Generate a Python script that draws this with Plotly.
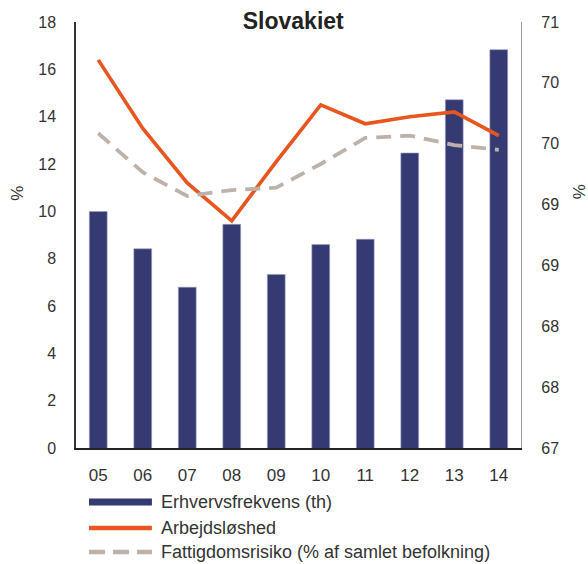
import numpy as np
import plotly.graph_objects as go

# Data
years = ["05", "06", "07", "08", "09", "10", "11", "12", "13", "14"]
erhvervsfrekvens = [69.22, 68.87, 68.51, 69.10, 68.63, 68.91, 68.96, 69.77, 70.27, 70.74]  # right axis (th)
arbejdsloshed = [16.4, 13.5, 11.2, 9.6, 12.1, 14.5, 13.7, 14.0, 14.2, 13.2]
fattigdomsrisiko = [13.3, 11.65, 10.65, 10.9, 11.0, 12.0, 13.1, 13.2, 12.8, 12.6]

left_ticks = list(range(0, 19, 2))
right_ticks = list(np.linspace(67, 71, 8))

NAVY = "#353B72"
ORANGE = "#E8561F"
GREY = "#BDB2AA"
TXT = "#333333"
FONT = "Liberation Sans, Arial, sans-serif"

W, H = 588, 564
L, R, T, B = 76, 66.5, 22, 115.5
pw, ph = W - L - R, H - T - B


def px(x):
    return (x - L) / pw


def py(y):
    return (H - B - y) / ph


fig = go.Figure()
# bars on the right-hand axis (base subplot), lines on the left-hand overlay so they draw on top
fig.add_trace(go.Bar(x=years, y=erhvervsfrekvens, yaxis="y", width=0.4,
                     marker=dict(color=NAVY, line=dict(color="#9A9CC0", width=0.6)),
                     name="Erhvervsfrekvens (th)"))
fig.add_trace(go.Scatter(x=years, y=arbejdsloshed, mode="lines", yaxis="y2",
                         line=dict(color=ORANGE, width=3.6), name="Arbejdsløshed"))
fig.add_trace(go.Scatter(x=years, y=fattigdomsrisiko, mode="lines", yaxis="y2",
                         line=dict(color=GREY, width=3.8, dash="15px,9px"),
                         name="Fattigdomsrisiko (% af samlet befolkning)"))

fig.update_layout(
    width=W, height=H,
    margin=dict(l=L, r=R, t=T, b=B),
    paper_bgcolor="white", plot_bgcolor="white",
    showlegend=False,
    font=dict(family=FONT, size=16, color=TXT),
    title=dict(text="<b>Slovakiet</b>", x=px(293.5), xref="paper", xanchor="center",
               y=1 - 21 / H, yanchor="middle",
               font=dict(family=FONT, size=23, color="#222222")),
    xaxis=dict(showgrid=False, showline=True, linecolor="#222222", linewidth=1.5,
               ticks="", ticklabelstandoff=11, tickfont=dict(size=17, color=TXT)),
    yaxis=dict(range=[67, 71], tickvals=right_ticks,
               ticktext=[f"{v:.0f}" for v in right_ticks],
               side="right", showgrid=False, zeroline=False,
               showline=True, linecolor="#9A9A9A", linewidth=1.2, ticks="",
               ticklabelstandoff=16, tickfont=dict(size=16, color=TXT)),
    yaxis2=dict(range=[0, 18], tickvals=left_ticks, overlaying="y", side="left",
                showgrid=False, zeroline=False,
                showline=True, linecolor="#333333", linewidth=1.5, ticks="",
                ticklabelstandoff=15, tickfont=dict(size=16, color=TXT)),
    bargap=0.6,
)

# Axis unit labels
fig.add_annotation(text="%", x=px(18), y=py(194), xref="paper", yref="paper",
                   xanchor="center", yanchor="middle",
                   showarrow=False, textangle=-90, font=dict(size=17, color=TXT))
fig.add_annotation(text="%", x=px(580), y=py(192), xref="paper", yref="paper",
                   xanchor="center", yanchor="middle",
                   showarrow=False, textangle=-90, font=dict(size=17, color=TXT))

# Legend drawn below the plot
legend_items = [
    ("Erhvervsfrekvens (th)", NAVY, 7, "solid", 502.5),
    ("Arbejdsløshed", ORANGE, 4.5, "solid", 528.5),
    ("Fattigdomsrisiko (% af samlet befolkning)", GREY, 4.5, "16px,8px", 552.5),
]
for label, color, lw, dash, yy in legend_items:
    fig.add_shape(type="line", xref="paper", yref="paper",
                  x0=px(89), x1=px(152), y0=py(yy), y1=py(yy),
                  line=dict(color=color, width=lw, dash=dash))
    fig.add_annotation(text=label, x=px(159), y=py(yy), xref="paper", yref="paper",
                       xanchor="left", yanchor="middle", showarrow=False,
                       font=dict(size=18, color=TXT))

fig.write_html("out.html")
